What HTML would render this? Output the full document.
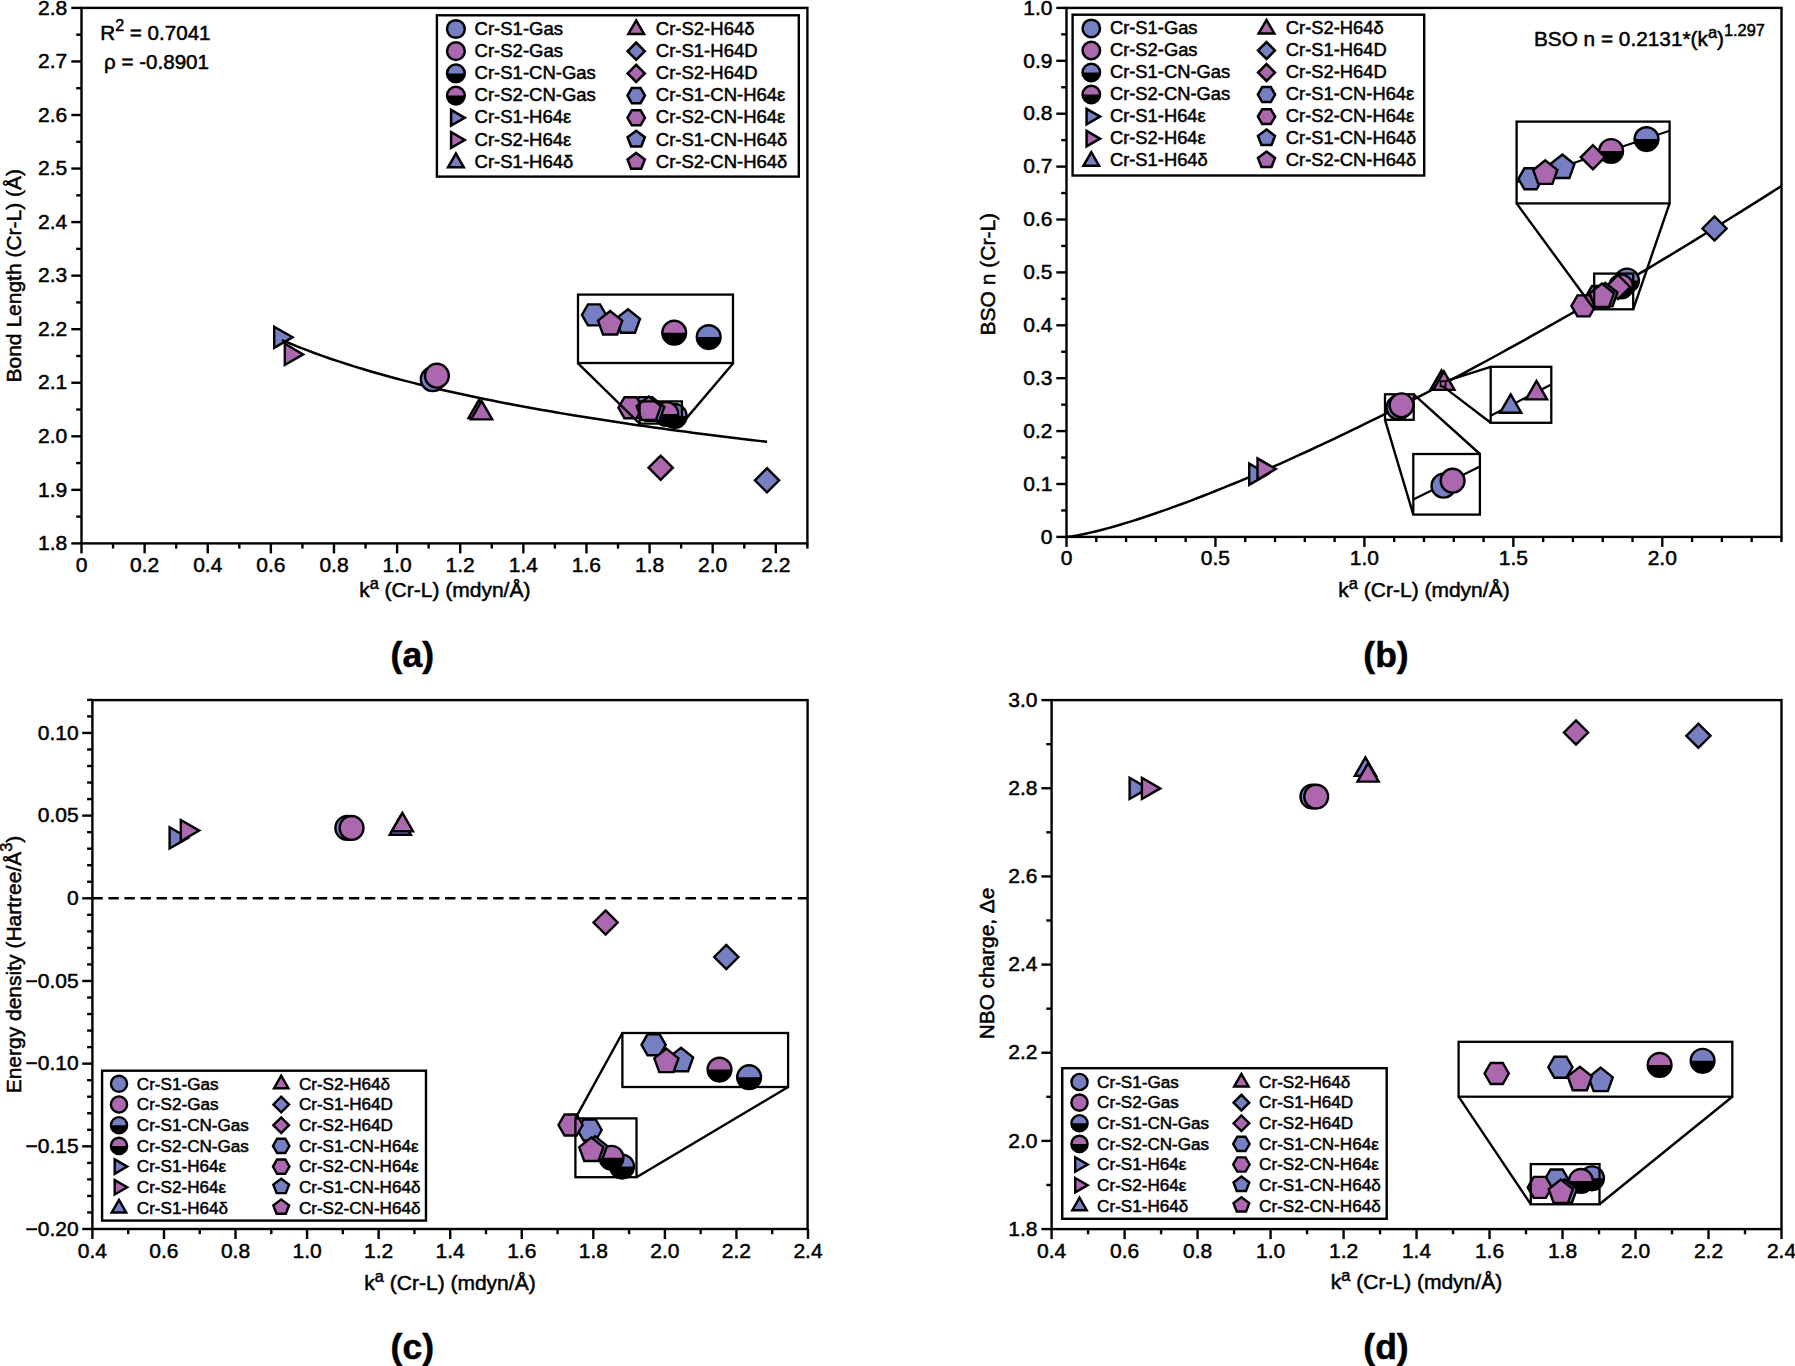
<!DOCTYPE html>
<html lang="en">
<head>
<meta charset="utf-8">
<title>Figure: Cr-L bond properties vs local force constant</title>
<style>html,body{margin:0;padding:0;background:#fff}body{width:1795px;height:1366px;overflow:hidden}</style>
</head>
<body>
<svg width="1795" height="1366" viewBox="0 0 1795 1366" style="display:block;font-family:'Liberation Sans',sans-serif" fill="#000">
<style>text{stroke:#000;stroke-width:0.5px;paint-order:stroke fill}</style>
<rect x="0" y="0" width="1795" height="1366" fill="#fff"/>
<g id="panel-a">
<polygon points="274.2,326.7 292.6,337.3 274.2,347.9" fill="#767fc1" stroke="#000" stroke-width="2.4" stroke-linejoin="miter"/>
<polygon points="284.8,343.8 303.2,354.4 284.8,365" fill="#ab68ae" stroke="#000" stroke-width="2.4" stroke-linejoin="miter"/>
<polyline fill="none" stroke="#000" stroke-width="2.5" points="281.99,340.09 290.08,343.51 298.16,346.79 306.25,349.94 314.33,352.97 322.42,355.88 330.51,358.7 338.59,361.42 346.68,364.05 354.76,366.59 362.85,369.06 370.93,371.45 379.02,373.77 387.1,376.02 395.19,378.21 403.27,380.34 411.36,382.41 419.44,384.43 427.53,386.4 435.61,388.31 443.7,390.19 451.78,392.01 459.87,393.8 467.95,395.54 476.04,397.25 484.13,398.92 492.21,400.55 500.3,402.15 508.38,403.72 516.47,405.25 524.55,406.76 532.64,408.23 540.72,409.68 548.81,411.1 556.89,412.49 564.98,413.86 573.06,415.2 581.15,416.52 589.23,417.82 597.32,419.1 605.4,420.35 613.49,421.58 621.58,422.8 629.66,423.99 637.75,425.17 645.83,426.33 653.92,427.47 662,428.59 670.09,429.69 678.17,430.78 686.26,431.86 694.34,432.92 702.43,433.96 710.51,434.99 718.6,436 726.68,437 734.77,437.99 742.85,438.97 750.94,439.93 759.02,440.88 767.11,441.82"/>
<rect x="81.5" y="7.9" width="725.9" height="535.5" fill="none" stroke="#000" stroke-width="2.4"/>
<line x1="81.5" y1="543.4" x2="81.5" y2="553.4" stroke="#000" stroke-width="2.4" />
<line x1="144.62" y1="543.4" x2="144.62" y2="553.4" stroke="#000" stroke-width="2.4" />
<line x1="207.74" y1="543.4" x2="207.74" y2="553.4" stroke="#000" stroke-width="2.4" />
<line x1="270.86" y1="543.4" x2="270.86" y2="553.4" stroke="#000" stroke-width="2.4" />
<line x1="333.98" y1="543.4" x2="333.98" y2="553.4" stroke="#000" stroke-width="2.4" />
<line x1="397.1" y1="543.4" x2="397.1" y2="553.4" stroke="#000" stroke-width="2.4" />
<line x1="460.22" y1="543.4" x2="460.22" y2="553.4" stroke="#000" stroke-width="2.4" />
<line x1="523.34" y1="543.4" x2="523.34" y2="553.4" stroke="#000" stroke-width="2.4" />
<line x1="586.46" y1="543.4" x2="586.46" y2="553.4" stroke="#000" stroke-width="2.4" />
<line x1="649.58" y1="543.4" x2="649.58" y2="553.4" stroke="#000" stroke-width="2.4" />
<line x1="712.7" y1="543.4" x2="712.7" y2="553.4" stroke="#000" stroke-width="2.4" />
<line x1="775.82" y1="543.4" x2="775.82" y2="553.4" stroke="#000" stroke-width="2.4" />
<line x1="113.06" y1="543.4" x2="113.06" y2="548.6" stroke="#000" stroke-width="2.4" />
<line x1="176.18" y1="543.4" x2="176.18" y2="548.6" stroke="#000" stroke-width="2.4" />
<line x1="239.3" y1="543.4" x2="239.3" y2="548.6" stroke="#000" stroke-width="2.4" />
<line x1="302.42" y1="543.4" x2="302.42" y2="548.6" stroke="#000" stroke-width="2.4" />
<line x1="365.54" y1="543.4" x2="365.54" y2="548.6" stroke="#000" stroke-width="2.4" />
<line x1="428.66" y1="543.4" x2="428.66" y2="548.6" stroke="#000" stroke-width="2.4" />
<line x1="491.78" y1="543.4" x2="491.78" y2="548.6" stroke="#000" stroke-width="2.4" />
<line x1="554.9" y1="543.4" x2="554.9" y2="548.6" stroke="#000" stroke-width="2.4" />
<line x1="618.02" y1="543.4" x2="618.02" y2="548.6" stroke="#000" stroke-width="2.4" />
<line x1="681.14" y1="543.4" x2="681.14" y2="548.6" stroke="#000" stroke-width="2.4" />
<line x1="744.26" y1="543.4" x2="744.26" y2="548.6" stroke="#000" stroke-width="2.4" />
<line x1="807.38" y1="543.4" x2="807.38" y2="548.6" stroke="#000" stroke-width="2.4" />
<line x1="71.3" y1="543.4" x2="81.5" y2="543.4" stroke="#000" stroke-width="2.4" />
<line x1="71.3" y1="489.85" x2="81.5" y2="489.85" stroke="#000" stroke-width="2.4" />
<line x1="71.3" y1="436.3" x2="81.5" y2="436.3" stroke="#000" stroke-width="2.4" />
<line x1="71.3" y1="382.75" x2="81.5" y2="382.75" stroke="#000" stroke-width="2.4" />
<line x1="71.3" y1="329.2" x2="81.5" y2="329.2" stroke="#000" stroke-width="2.4" />
<line x1="71.3" y1="275.65" x2="81.5" y2="275.65" stroke="#000" stroke-width="2.4" />
<line x1="71.3" y1="222.1" x2="81.5" y2="222.1" stroke="#000" stroke-width="2.4" />
<line x1="71.3" y1="168.55" x2="81.5" y2="168.55" stroke="#000" stroke-width="2.4" />
<line x1="71.3" y1="115" x2="81.5" y2="115" stroke="#000" stroke-width="2.4" />
<line x1="71.3" y1="61.45" x2="81.5" y2="61.45" stroke="#000" stroke-width="2.4" />
<line x1="71.3" y1="7.9" x2="81.5" y2="7.9" stroke="#000" stroke-width="2.4" />
<line x1="76.2" y1="516.62" x2="81.5" y2="516.62" stroke="#000" stroke-width="2.4" />
<line x1="76.2" y1="463.07" x2="81.5" y2="463.07" stroke="#000" stroke-width="2.4" />
<line x1="76.2" y1="409.52" x2="81.5" y2="409.52" stroke="#000" stroke-width="2.4" />
<line x1="76.2" y1="355.97" x2="81.5" y2="355.97" stroke="#000" stroke-width="2.4" />
<line x1="76.2" y1="302.42" x2="81.5" y2="302.42" stroke="#000" stroke-width="2.4" />
<line x1="76.2" y1="248.87" x2="81.5" y2="248.87" stroke="#000" stroke-width="2.4" />
<line x1="76.2" y1="195.32" x2="81.5" y2="195.32" stroke="#000" stroke-width="2.4" />
<line x1="76.2" y1="141.77" x2="81.5" y2="141.77" stroke="#000" stroke-width="2.4" />
<line x1="76.2" y1="88.22" x2="81.5" y2="88.22" stroke="#000" stroke-width="2.4" />
<line x1="76.2" y1="34.67" x2="81.5" y2="34.67" stroke="#000" stroke-width="2.4" />
<text x="81.5" y="571.5" text-anchor="middle" style="font-size:21px" >0</text>
<text x="144.62" y="571.5" text-anchor="middle" style="font-size:21px" >0.2</text>
<text x="207.74" y="571.5" text-anchor="middle" style="font-size:21px" >0.4</text>
<text x="270.86" y="571.5" text-anchor="middle" style="font-size:21px" >0.6</text>
<text x="333.98" y="571.5" text-anchor="middle" style="font-size:21px" >0.8</text>
<text x="397.1" y="571.5" text-anchor="middle" style="font-size:21px" >1.0</text>
<text x="460.22" y="571.5" text-anchor="middle" style="font-size:21px" >1.2</text>
<text x="523.34" y="571.5" text-anchor="middle" style="font-size:21px" >1.4</text>
<text x="586.46" y="571.5" text-anchor="middle" style="font-size:21px" >1.6</text>
<text x="649.58" y="571.5" text-anchor="middle" style="font-size:21px" >1.8</text>
<text x="712.7" y="571.5" text-anchor="middle" style="font-size:21px" >2.0</text>
<text x="775.82" y="571.5" text-anchor="middle" style="font-size:21px" >2.2</text>
<text x="67.3" y="550.1" text-anchor="end" style="font-size:21px" >1.8</text>
<text x="67.3" y="496.55" text-anchor="end" style="font-size:21px" >1.9</text>
<text x="67.3" y="443" text-anchor="end" style="font-size:21px" >2.0</text>
<text x="67.3" y="389.45" text-anchor="end" style="font-size:21px" >2.1</text>
<text x="67.3" y="335.9" text-anchor="end" style="font-size:21px" >2.2</text>
<text x="67.3" y="282.35" text-anchor="end" style="font-size:21px" >2.3</text>
<text x="67.3" y="228.8" text-anchor="end" style="font-size:21px" >2.4</text>
<text x="67.3" y="175.25" text-anchor="end" style="font-size:21px" >2.5</text>
<text x="67.3" y="121.7" text-anchor="end" style="font-size:21px" >2.6</text>
<text x="67.3" y="68.15" text-anchor="end" style="font-size:21px" >2.7</text>
<text x="67.3" y="14.6" text-anchor="end" style="font-size:21px" >2.8</text>
<text x="444.8" y="596.8" text-anchor="middle" style="font-size:21px" >k<tspan dy="-8" style="font-size:16.38px">a</tspan><tspan dy="8"> (Cr-L) (mdyn/Å)</tspan></text>
<text transform="translate(20.5 275.7) rotate(-90)" text-anchor="middle" style="font-size:21px">Bond Length (Cr-L) (Å)</text>
<text x="100.3" y="39.8" text-anchor="start" style="font-size:20.6px" >R<tspan dy="-8.5" style="font-size:16px">2</tspan><tspan dy="8.5"> = 0.7041</tspan></text>
<text x="104" y="69.2" text-anchor="start" style="font-size:20.6px" >ρ = -0.8901</text>
<circle cx="432.7" cy="379.2" r="11.9" fill="#767fc1" stroke="#000" stroke-width="2.4"/>
<circle cx="436.9" cy="375.7" r="11.9" fill="#ab68ae" stroke="#000" stroke-width="2.4"/>
<polygon points="468.5,418 479.1,399.6 489.7,418" fill="#767fc1" stroke="#000" stroke-width="2.4" stroke-linejoin="miter"/>
<polygon points="471,419.4 481.6,401 492.2,419.4" fill="#ab68ae" stroke="#000" stroke-width="2.4" stroke-linejoin="miter"/>
<polygon points="648.6,467.7 660.7,455.6 672.8,467.7 660.7,479.8" fill="#ab68ae" stroke="#000" stroke-width="2.4" stroke-linejoin="miter"/>
<polygon points="754.9,480.3 767,468.2 779.1,480.3 767,492.4" fill="#767fc1" stroke="#000" stroke-width="2.4" stroke-linejoin="miter"/>
<circle cx="674.7" cy="415.9" r="11.9" fill="#000" stroke="#000" stroke-width="2.4"/>
<path d="M664 415.9A10.7 10.7 0 0 1 685.4 415.9Z" fill="#767fc1"/>
<circle cx="666.4" cy="414" r="11.9" fill="#000" stroke="#000" stroke-width="2.4"/>
<path d="M655.7 414A10.7 10.7 0 0 1 677.1 414Z" fill="#ab68ae"/>
<polygon points="657.2,407.6 651.15,418.08 639.05,418.08 633,407.6 639.05,397.12 651.15,397.12" fill="#767fc1" stroke="#000" stroke-width="2.4" stroke-linejoin="miter"/>
<polygon points="642.6,407.7 636.55,418.18 624.45,418.18 618.4,407.7 624.45,397.22 636.55,397.22" fill="#ab68ae" stroke="#000" stroke-width="2.4" stroke-linejoin="miter"/>
<polygon points="652.2,397.25 664.3,406.9 659.3,420.75 645.1,420.75 640.1,406.9" fill="#767fc1" stroke="#000" stroke-width="2.4" stroke-linejoin="miter"/>
<polygon points="648.8,396.45 660.9,406.1 655.9,419.95 641.7,419.95 636.7,406.1" fill="#ab68ae" stroke="#000" stroke-width="2.4" stroke-linejoin="miter"/>
<rect x="639.6" y="401.4" width="42.3" height="22.2" fill="none" stroke="#000" stroke-width="2.3"/>
<line x1="577.8" y1="363.2" x2="639.6" y2="423.6" stroke="#000" stroke-width="2.4" />
<line x1="733.2" y1="363.2" x2="681.9" y2="423.6" stroke="#000" stroke-width="2.4" />
<rect x="578" y="294.6" width="155" height="68.4" fill="#fff" stroke="#000" stroke-width="2.3"/>
<polygon points="606.1,314.9 600.05,325.38 587.95,325.38 581.9,314.9 587.95,304.42 600.05,304.42" fill="#767fc1" stroke="#000" stroke-width="2.4" stroke-linejoin="miter"/>
<polygon points="627.9,309.25 640,318.9 635,332.75 620.8,332.75 615.8,318.9" fill="#767fc1" stroke="#000" stroke-width="2.4" stroke-linejoin="miter"/>
<polygon points="610.1,310.95 622.2,320.6 617.2,334.45 603,334.45 598,320.6" fill="#ab68ae" stroke="#000" stroke-width="2.4" stroke-linejoin="miter"/>
<circle cx="674.2" cy="332.7" r="11.9" fill="#000" stroke="#000" stroke-width="2.4"/>
<path d="M663.5 332.7A10.7 10.7 0 0 1 684.9 332.7Z" fill="#ab68ae"/>
<circle cx="708.7" cy="337.1" r="11.9" fill="#000" stroke="#000" stroke-width="2.4"/>
<path d="M698 337.1A10.7 10.7 0 0 1 719.4 337.1Z" fill="#767fc1"/>
<rect x="436.9" y="15.3" width="361.9" height="161.3" fill="#fff" stroke="#000" stroke-width="2.4"/>
<circle cx="455.9" cy="29" r="8.87" fill="#767fc1" stroke="#000" stroke-width="2.5"/>
<text x="474.6" y="34.57" text-anchor="start" style="font-size:18.5px" >Cr-S1-Gas</text>
<circle cx="455.9" cy="51.2" r="8.87" fill="#ab68ae" stroke="#000" stroke-width="2.5"/>
<text x="474.6" y="56.77" text-anchor="start" style="font-size:18.5px" >Cr-S2-Gas</text>
<circle cx="455.9" cy="73.4" r="8.87" fill="#000" stroke="#000" stroke-width="2.5"/>
<path d="M448.28 73.4A7.62 7.62 0 0 1 463.52 73.4Z" fill="#767fc1"/>
<text x="474.6" y="78.97" text-anchor="start" style="font-size:18.5px" >Cr-S1-CN-Gas</text>
<circle cx="455.9" cy="95.6" r="8.87" fill="#000" stroke="#000" stroke-width="2.5"/>
<path d="M448.28 95.6A7.62 7.62 0 0 1 463.52 95.6Z" fill="#ab68ae"/>
<text x="474.6" y="101.17" text-anchor="start" style="font-size:18.5px" >Cr-S2-CN-Gas</text>
<polygon points="451.09,109.9 464.8,117.8 451.09,125.7" fill="#767fc1" stroke="#000" stroke-width="2.5" stroke-linejoin="miter"/>
<text x="474.6" y="123.37" text-anchor="start" style="font-size:18.5px" >Cr-S1-H64ε</text>
<polygon points="451.09,132.1 464.8,140 451.09,147.9" fill="#ab68ae" stroke="#000" stroke-width="2.5" stroke-linejoin="miter"/>
<text x="474.6" y="145.57" text-anchor="start" style="font-size:18.5px" >Cr-S2-H64ε</text>
<polygon points="448,167.3 455.9,153.59 463.8,167.3" fill="#767fc1" stroke="#000" stroke-width="2.5" stroke-linejoin="miter"/>
<text x="474.6" y="167.77" text-anchor="start" style="font-size:18.5px" >Cr-S1-H64δ</text>
<polygon points="628.3,34.1 636.2,20.39 644.1,34.1" fill="#ab68ae" stroke="#000" stroke-width="2.5" stroke-linejoin="miter"/>
<text x="655.8" y="34.57" text-anchor="start" style="font-size:18.5px" >Cr-S2-H64δ</text>
<polygon points="627.64,51.2 636.2,42.64 644.76,51.2 636.2,59.76" fill="#767fc1" stroke="#000" stroke-width="2.5" stroke-linejoin="miter"/>
<text x="655.8" y="56.77" text-anchor="start" style="font-size:18.5px" >Cr-S1-H64D</text>
<polygon points="627.64,73.4 636.2,64.84 644.76,73.4 636.2,81.96" fill="#ab68ae" stroke="#000" stroke-width="2.5" stroke-linejoin="miter"/>
<text x="655.8" y="78.97" text-anchor="start" style="font-size:18.5px" >Cr-S2-H64D</text>
<polygon points="644.94,95.6 640.57,103.17 631.83,103.17 627.46,95.6 631.83,88.03 640.57,88.03" fill="#767fc1" stroke="#000" stroke-width="2.5" stroke-linejoin="miter"/>
<text x="655.8" y="101.17" text-anchor="start" style="font-size:18.5px" >Cr-S1-CN-H64ε</text>
<polygon points="644.94,117.8 640.57,125.37 631.83,125.37 627.46,117.8 631.83,110.23 640.57,110.23" fill="#ab68ae" stroke="#000" stroke-width="2.5" stroke-linejoin="miter"/>
<text x="655.8" y="123.37" text-anchor="start" style="font-size:18.5px" >Cr-S2-CN-H64ε</text>
<polygon points="636.2,130.72 644.85,137.19 641.28,146.48 631.12,146.48 627.55,137.19" fill="#767fc1" stroke="#000" stroke-width="2.5" stroke-linejoin="miter"/>
<text x="655.8" y="145.57" text-anchor="start" style="font-size:18.5px" >Cr-S1-CN-H64δ</text>
<polygon points="636.2,152.92 644.85,159.39 641.28,168.68 631.12,168.68 627.55,159.39" fill="#ab68ae" stroke="#000" stroke-width="2.5" stroke-linejoin="miter"/>
<text x="655.8" y="167.77" text-anchor="start" style="font-size:18.5px" >Cr-S2-CN-H64δ</text>
<text x="412.3" y="667" text-anchor="middle" style="font-size:35.5px;font-weight:bold" >(a)</text>
</g>
<g id="panel-b">
<polyline fill="none" stroke="#000" stroke-width="2.5" points="1066.5,536.9 1072.46,536.19 1078.42,535.17 1084.37,533.97 1090.33,532.64 1096.29,531.21 1102.25,529.69 1108.21,528.1 1114.16,526.43 1120.12,524.71 1126.08,522.92 1132.04,521.08 1138,519.19 1143.95,517.25 1149.91,515.27 1155.87,513.25 1161.83,511.18 1167.79,509.08 1173.74,506.94 1179.7,504.76 1185.66,502.55 1191.62,500.31 1197.58,498.03 1203.53,495.72 1209.49,493.39 1215.45,491.02 1221.41,488.63 1227.37,486.21 1233.32,483.76 1239.28,481.28 1245.24,478.78 1251.2,476.26 1257.16,473.71 1263.11,471.14 1269.07,468.54 1275.03,465.92 1280.99,463.28 1286.95,460.62 1292.9,457.93 1298.86,455.23 1304.82,452.5 1310.78,449.75 1316.74,446.99 1322.69,444.2 1328.65,441.39 1334.61,438.57 1340.57,435.73 1346.53,432.86 1352.48,429.98 1358.44,427.09 1364.4,424.17 1370.36,421.24 1376.32,418.29 1382.27,415.32 1388.23,412.34 1394.19,409.34 1400.15,406.32 1406.11,403.29 1412.06,400.24 1418.02,397.18 1423.98,394.1 1429.94,391 1435.9,387.89 1441.85,384.77 1447.81,381.63 1453.77,378.48 1459.73,375.31 1465.69,372.12 1471.64,368.93 1477.6,365.72 1483.56,362.49 1489.52,359.25 1495.48,356 1501.43,352.74 1507.39,349.46 1513.35,346.17 1519.31,342.86 1525.27,339.54 1531.22,336.21 1537.18,332.87 1543.14,329.51 1549.1,326.14 1555.06,322.76 1561.01,319.37 1566.97,315.96 1572.93,312.55 1578.89,309.12 1584.85,305.68 1590.8,302.22 1596.76,298.76 1602.72,295.28 1608.68,291.8 1614.64,288.3 1620.59,284.79 1626.55,281.26 1632.51,277.73 1638.47,274.19 1644.43,270.63 1650.38,267.07 1656.34,263.49 1662.3,259.9 1668.26,256.31 1674.22,252.7 1680.17,249.08 1686.13,245.45 1692.09,241.81 1698.05,238.16 1704.01,234.5 1709.96,230.83 1715.92,227.15 1721.88,223.46 1727.84,219.75 1733.8,216.04 1739.75,212.32 1745.71,208.59 1751.67,204.85 1757.63,201.1 1763.59,197.34 1769.54,193.57 1775.5,189.8 1781.46,186.01"/>
<rect x="1066.5" y="7.9" width="715" height="529" fill="none" stroke="#000" stroke-width="2.4"/>
<line x1="1066.5" y1="536.9" x2="1066.5" y2="546.9" stroke="#000" stroke-width="2.4" />
<line x1="1215.45" y1="536.9" x2="1215.45" y2="546.9" stroke="#000" stroke-width="2.4" />
<line x1="1364.4" y1="536.9" x2="1364.4" y2="546.9" stroke="#000" stroke-width="2.4" />
<line x1="1513.35" y1="536.9" x2="1513.35" y2="546.9" stroke="#000" stroke-width="2.4" />
<line x1="1662.3" y1="536.9" x2="1662.3" y2="546.9" stroke="#000" stroke-width="2.4" />
<line x1="1096.29" y1="536.9" x2="1096.29" y2="542.1" stroke="#000" stroke-width="2.4" />
<line x1="1126.08" y1="536.9" x2="1126.08" y2="542.1" stroke="#000" stroke-width="2.4" />
<line x1="1155.87" y1="536.9" x2="1155.87" y2="542.1" stroke="#000" stroke-width="2.4" />
<line x1="1185.66" y1="536.9" x2="1185.66" y2="542.1" stroke="#000" stroke-width="2.4" />
<line x1="1245.24" y1="536.9" x2="1245.24" y2="542.1" stroke="#000" stroke-width="2.4" />
<line x1="1275.03" y1="536.9" x2="1275.03" y2="542.1" stroke="#000" stroke-width="2.4" />
<line x1="1304.82" y1="536.9" x2="1304.82" y2="542.1" stroke="#000" stroke-width="2.4" />
<line x1="1334.61" y1="536.9" x2="1334.61" y2="542.1" stroke="#000" stroke-width="2.4" />
<line x1="1394.19" y1="536.9" x2="1394.19" y2="542.1" stroke="#000" stroke-width="2.4" />
<line x1="1423.98" y1="536.9" x2="1423.98" y2="542.1" stroke="#000" stroke-width="2.4" />
<line x1="1453.77" y1="536.9" x2="1453.77" y2="542.1" stroke="#000" stroke-width="2.4" />
<line x1="1483.56" y1="536.9" x2="1483.56" y2="542.1" stroke="#000" stroke-width="2.4" />
<line x1="1543.14" y1="536.9" x2="1543.14" y2="542.1" stroke="#000" stroke-width="2.4" />
<line x1="1572.93" y1="536.9" x2="1572.93" y2="542.1" stroke="#000" stroke-width="2.4" />
<line x1="1602.72" y1="536.9" x2="1602.72" y2="542.1" stroke="#000" stroke-width="2.4" />
<line x1="1632.51" y1="536.9" x2="1632.51" y2="542.1" stroke="#000" stroke-width="2.4" />
<line x1="1692.09" y1="536.9" x2="1692.09" y2="542.1" stroke="#000" stroke-width="2.4" />
<line x1="1721.88" y1="536.9" x2="1721.88" y2="542.1" stroke="#000" stroke-width="2.4" />
<line x1="1751.67" y1="536.9" x2="1751.67" y2="542.1" stroke="#000" stroke-width="2.4" />
<line x1="1781.46" y1="536.9" x2="1781.46" y2="542.1" stroke="#000" stroke-width="2.4" />
<line x1="1056.3" y1="536.9" x2="1066.5" y2="536.9" stroke="#000" stroke-width="2.4" />
<line x1="1056.3" y1="484" x2="1066.5" y2="484" stroke="#000" stroke-width="2.4" />
<line x1="1056.3" y1="431.1" x2="1066.5" y2="431.1" stroke="#000" stroke-width="2.4" />
<line x1="1056.3" y1="378.2" x2="1066.5" y2="378.2" stroke="#000" stroke-width="2.4" />
<line x1="1056.3" y1="325.3" x2="1066.5" y2="325.3" stroke="#000" stroke-width="2.4" />
<line x1="1056.3" y1="272.4" x2="1066.5" y2="272.4" stroke="#000" stroke-width="2.4" />
<line x1="1056.3" y1="219.5" x2="1066.5" y2="219.5" stroke="#000" stroke-width="2.4" />
<line x1="1056.3" y1="166.6" x2="1066.5" y2="166.6" stroke="#000" stroke-width="2.4" />
<line x1="1056.3" y1="113.7" x2="1066.5" y2="113.7" stroke="#000" stroke-width="2.4" />
<line x1="1056.3" y1="60.8" x2="1066.5" y2="60.8" stroke="#000" stroke-width="2.4" />
<line x1="1056.3" y1="7.9" x2="1066.5" y2="7.9" stroke="#000" stroke-width="2.4" />
<line x1="1061.2" y1="510.45" x2="1066.5" y2="510.45" stroke="#000" stroke-width="2.4" />
<line x1="1061.2" y1="457.55" x2="1066.5" y2="457.55" stroke="#000" stroke-width="2.4" />
<line x1="1061.2" y1="404.65" x2="1066.5" y2="404.65" stroke="#000" stroke-width="2.4" />
<line x1="1061.2" y1="351.75" x2="1066.5" y2="351.75" stroke="#000" stroke-width="2.4" />
<line x1="1061.2" y1="298.85" x2="1066.5" y2="298.85" stroke="#000" stroke-width="2.4" />
<line x1="1061.2" y1="245.95" x2="1066.5" y2="245.95" stroke="#000" stroke-width="2.4" />
<line x1="1061.2" y1="193.05" x2="1066.5" y2="193.05" stroke="#000" stroke-width="2.4" />
<line x1="1061.2" y1="140.15" x2="1066.5" y2="140.15" stroke="#000" stroke-width="2.4" />
<line x1="1061.2" y1="87.25" x2="1066.5" y2="87.25" stroke="#000" stroke-width="2.4" />
<line x1="1061.2" y1="34.35" x2="1066.5" y2="34.35" stroke="#000" stroke-width="2.4" />
<text x="1066.5" y="565.4" text-anchor="middle" style="font-size:21px" >0</text>
<text x="1215.45" y="565.4" text-anchor="middle" style="font-size:21px" >0.5</text>
<text x="1364.4" y="565.4" text-anchor="middle" style="font-size:21px" >1.0</text>
<text x="1513.35" y="565.4" text-anchor="middle" style="font-size:21px" >1.5</text>
<text x="1662.3" y="565.4" text-anchor="middle" style="font-size:21px" >2.0</text>
<text x="1052.5" y="543.6" text-anchor="end" style="font-size:21px" >0</text>
<text x="1052.5" y="490.7" text-anchor="end" style="font-size:21px" >0.1</text>
<text x="1052.5" y="437.8" text-anchor="end" style="font-size:21px" >0.2</text>
<text x="1052.5" y="384.9" text-anchor="end" style="font-size:21px" >0.3</text>
<text x="1052.5" y="332" text-anchor="end" style="font-size:21px" >0.4</text>
<text x="1052.5" y="279.1" text-anchor="end" style="font-size:21px" >0.5</text>
<text x="1052.5" y="226.2" text-anchor="end" style="font-size:21px" >0.6</text>
<text x="1052.5" y="173.3" text-anchor="end" style="font-size:21px" >0.7</text>
<text x="1052.5" y="120.4" text-anchor="end" style="font-size:21px" >0.8</text>
<text x="1052.5" y="67.5" text-anchor="end" style="font-size:21px" >0.9</text>
<text x="1052.5" y="14.6" text-anchor="end" style="font-size:21px" >1.0</text>
<text x="1424" y="596.6" text-anchor="middle" style="font-size:21px" >k<tspan dy="-8" style="font-size:16.38px">a</tspan><tspan dy="8"> (Cr-L) (mdyn/Å)</tspan></text>
<text transform="translate(994.8 274.2) rotate(-90)" text-anchor="middle" style="font-size:21px">BSO n (Cr-L)</text>
<text x="1533.9" y="45.6" text-anchor="start" style="font-size:20.8px" >BSO n = 0.2131*(k<tspan dy="-8" style="font-size:16.4px">a</tspan><tspan dy="8">)</tspan><tspan dy="-10" style="font-size:16.4px">1.297</tspan></text>
<polygon points="1249.2,463.6 1267.6,474.2 1249.2,484.8" fill="#767fc1" stroke="#000" stroke-width="2.4" stroke-linejoin="miter"/>
<polygon points="1257.5,458.4 1275.9,469 1257.5,479.6" fill="#ab68ae" stroke="#000" stroke-width="2.4" stroke-linejoin="miter"/>
<polygon points="1702.4,228.5 1714.5,216.4 1726.6,228.5 1714.5,240.6" fill="#767fc1" stroke="#000" stroke-width="2.4" stroke-linejoin="miter"/>
<circle cx="1398.5" cy="407.4" r="11.9" fill="#767fc1" stroke="#000" stroke-width="2.4"/>
<rect x="1385" y="394.3" width="28.7" height="25.5" fill="none" stroke="#000" stroke-width="2.3"/>
<circle cx="1401.5" cy="405.3" r="11.9" fill="#ab68ae" stroke="#000" stroke-width="2.4"/>
<polygon points="1430.9,388.8 1441.5,370.4 1452.1,388.8" fill="#767fc1" stroke="#000" stroke-width="2.4" stroke-linejoin="miter"/>
<polygon points="1433.3,389.9 1443.9,371.5 1454.5,389.9" fill="#ab68ae" stroke="#000" stroke-width="2.4" stroke-linejoin="miter"/>
<rect x="1440.6" y="381.2" width="5" height="5.2" fill="none" stroke="#000" stroke-width="1.8"/>
<line x1="1385" y1="419.8" x2="1413.3" y2="514.6" stroke="#000" stroke-width="2.4" />
<line x1="1413.7" y1="394.3" x2="1479.9" y2="454" stroke="#000" stroke-width="2.4" />
<line x1="1445.6" y1="381.2" x2="1490.7" y2="366.8" stroke="#000" stroke-width="2.4" />
<line x1="1443" y1="386.4" x2="1490.7" y2="422.8" stroke="#000" stroke-width="2.4" />
<rect x="1413.3" y="454" width="66.6" height="60.6" fill="#fff" stroke="#000" stroke-width="2.3"/>
<line x1="1413.3" y1="499.4" x2="1479.9" y2="466.6" stroke="#000" stroke-width="2.2" />
<circle cx="1443.5" cy="485.7" r="11.9" fill="#767fc1" stroke="#000" stroke-width="2.4"/>
<circle cx="1452.6" cy="480.7" r="11.9" fill="#ab68ae" stroke="#000" stroke-width="2.4"/>
<rect x="1490.7" y="366.8" width="60.6" height="56" fill="#fff" stroke="#000" stroke-width="2.3"/>
<line x1="1490.7" y1="415.8" x2="1551.3" y2="384.5" stroke="#000" stroke-width="2.2" />
<polygon points="1500.1,412.7 1510.7,394.3 1521.3,412.7" fill="#767fc1" stroke="#000" stroke-width="2.4" stroke-linejoin="miter"/>
<polygon points="1525.9,399.4 1536.5,381 1547.1,399.4" fill="#ab68ae" stroke="#000" stroke-width="2.4" stroke-linejoin="miter"/>
<circle cx="1627" cy="280.5" r="11.9" fill="#000" stroke="#000" stroke-width="2.4"/>
<path d="M1616.3 280.5A10.7 10.7 0 0 1 1637.7 280.5Z" fill="#767fc1"/>
<circle cx="1621" cy="286.5" r="11.9" fill="#000" stroke="#000" stroke-width="2.4"/>
<path d="M1610.3 286.5A10.7 10.7 0 0 1 1631.7 286.5Z" fill="#ab68ae"/>
<polygon points="1605.9,287 1618,274.9 1630.1,287 1618,299.1" fill="#ab68ae" stroke="#000" stroke-width="2.4" stroke-linejoin="miter"/>
<polygon points="1610.1,296.5 1604.05,306.98 1591.95,306.98 1585.9,296.5 1591.95,286.02 1604.05,286.02" fill="#767fc1" stroke="#000" stroke-width="2.4" stroke-linejoin="miter"/>
<polygon points="1595.6,305.9 1589.55,316.38 1577.45,316.38 1571.4,305.9 1577.45,295.42 1589.55,295.42" fill="#ab68ae" stroke="#000" stroke-width="2.4" stroke-linejoin="miter"/>
<polygon points="1605.4,282.85 1617.5,292.5 1612.5,306.35 1598.3,306.35 1593.3,292.5" fill="#767fc1" stroke="#000" stroke-width="2.4" stroke-linejoin="miter"/>
<polygon points="1601.9,283.55 1614,293.2 1609,307.05 1594.8,307.05 1589.8,293.2" fill="#ab68ae" stroke="#000" stroke-width="2.4" stroke-linejoin="miter"/>
<rect x="1594.2" y="273.6" width="39" height="35.7" fill="none" stroke="#000" stroke-width="2.3"/>
<line x1="1516.6" y1="203.4" x2="1594.2" y2="309.3" stroke="#000" stroke-width="2.4" />
<line x1="1669.6" y1="203.4" x2="1633.2" y2="309.3" stroke="#000" stroke-width="2.4" />
<rect x="1516.6" y="121.6" width="153" height="81.8" fill="#fff" stroke="#000" stroke-width="2.3"/>
<line x1="1516.6" y1="182.2" x2="1669.6" y2="130.8" stroke="#000" stroke-width="2.2" />
<polygon points="1542.6,178.8 1536.55,189.28 1524.45,189.28 1518.4,178.8 1524.45,168.32 1536.55,168.32" fill="#767fc1" stroke="#000" stroke-width="2.4" stroke-linejoin="miter"/>
<polygon points="1562.3,154.55 1574.4,164.2 1569.4,178.05 1555.2,178.05 1550.2,164.2" fill="#767fc1" stroke="#000" stroke-width="2.4" stroke-linejoin="miter"/>
<polygon points="1545.3,160.35 1557.4,170 1552.4,183.85 1538.2,183.85 1533.2,170" fill="#ab68ae" stroke="#000" stroke-width="2.4" stroke-linejoin="miter"/>
<circle cx="1611.1" cy="151" r="11.9" fill="#000" stroke="#000" stroke-width="2.4"/>
<path d="M1600.4 151A10.7 10.7 0 0 1 1621.8 151Z" fill="#ab68ae"/>
<polygon points="1580.8,157.2 1592.9,145.1 1605,157.2 1592.9,169.3" fill="#ab68ae" stroke="#000" stroke-width="2.4" stroke-linejoin="miter"/>
<circle cx="1646.5" cy="139.1" r="11.9" fill="#000" stroke="#000" stroke-width="2.4"/>
<path d="M1635.8 139.1A10.7 10.7 0 0 1 1657.2 139.1Z" fill="#767fc1"/>
<rect x="1072.6" y="14.7" width="351.6" height="160.8" fill="#fff" stroke="#000" stroke-width="2.4"/>
<circle cx="1091.3" cy="28.4" r="8.75" fill="#767fc1" stroke="#000" stroke-width="2.5"/>
<text x="1109.9" y="33.91" text-anchor="start" style="font-size:18.35px" >Cr-S1-Gas</text>
<circle cx="1091.3" cy="50.45" r="8.75" fill="#ab68ae" stroke="#000" stroke-width="2.5"/>
<text x="1109.9" y="55.96" text-anchor="start" style="font-size:18.35px" >Cr-S2-Gas</text>
<circle cx="1091.3" cy="72.5" r="8.75" fill="#000" stroke="#000" stroke-width="2.5"/>
<path d="M1083.8 72.5A7.5 7.5 0 0 1 1098.8 72.5Z" fill="#767fc1"/>
<text x="1109.9" y="78.01" text-anchor="start" style="font-size:18.35px" >Cr-S1-CN-Gas</text>
<circle cx="1091.3" cy="94.55" r="8.75" fill="#000" stroke="#000" stroke-width="2.5"/>
<path d="M1083.8 94.55A7.5 7.5 0 0 1 1098.8 94.55Z" fill="#ab68ae"/>
<text x="1109.9" y="100.06" text-anchor="start" style="font-size:18.35px" >Cr-S2-CN-Gas</text>
<polygon points="1086.57,108.81 1100.09,116.6 1086.57,124.39" fill="#767fc1" stroke="#000" stroke-width="2.5" stroke-linejoin="miter"/>
<text x="1109.9" y="122.11" text-anchor="start" style="font-size:18.35px" >Cr-S1-H64ε</text>
<polygon points="1086.57,130.86 1100.09,138.65 1086.57,146.44" fill="#ab68ae" stroke="#000" stroke-width="2.5" stroke-linejoin="miter"/>
<text x="1109.9" y="144.16" text-anchor="start" style="font-size:18.35px" >Cr-S2-H64ε</text>
<polygon points="1083.51,165.7 1091.3,152.18 1099.09,165.7" fill="#767fc1" stroke="#000" stroke-width="2.5" stroke-linejoin="miter"/>
<text x="1109.9" y="166.21" text-anchor="start" style="font-size:18.35px" >Cr-S1-H64δ</text>
<polygon points="1258.71,33.4 1266.5,19.88 1274.29,33.4" fill="#ab68ae" stroke="#000" stroke-width="2.5" stroke-linejoin="miter"/>
<text x="1285.8" y="33.91" text-anchor="start" style="font-size:18.35px" >Cr-S2-H64δ</text>
<polygon points="1258.05,50.45 1266.5,42 1274.95,50.45 1266.5,58.9" fill="#767fc1" stroke="#000" stroke-width="2.5" stroke-linejoin="miter"/>
<text x="1285.8" y="55.96" text-anchor="start" style="font-size:18.35px" >Cr-S1-H64D</text>
<polygon points="1258.05,72.5 1266.5,64.05 1274.95,72.5 1266.5,80.95" fill="#ab68ae" stroke="#000" stroke-width="2.5" stroke-linejoin="miter"/>
<text x="1285.8" y="78.01" text-anchor="start" style="font-size:18.35px" >Cr-S2-H64D</text>
<polygon points="1275.13,94.55 1270.81,102.02 1262.19,102.02 1257.87,94.55 1262.19,87.08 1270.81,87.08" fill="#767fc1" stroke="#000" stroke-width="2.5" stroke-linejoin="miter"/>
<text x="1285.8" y="100.06" text-anchor="start" style="font-size:18.35px" >Cr-S1-CN-H64ε</text>
<polygon points="1275.13,116.6 1270.81,124.07 1262.19,124.07 1257.87,116.6 1262.19,109.13 1270.81,109.13" fill="#ab68ae" stroke="#000" stroke-width="2.5" stroke-linejoin="miter"/>
<text x="1285.8" y="122.11" text-anchor="start" style="font-size:18.35px" >Cr-S2-CN-H64ε</text>
<polygon points="1266.5,129.48 1275.04,135.86 1271.51,145.02 1261.49,145.02 1257.96,135.86" fill="#767fc1" stroke="#000" stroke-width="2.5" stroke-linejoin="miter"/>
<text x="1285.8" y="144.16" text-anchor="start" style="font-size:18.35px" >Cr-S1-CN-H64δ</text>
<polygon points="1266.5,151.53 1275.04,157.91 1271.51,167.07 1261.49,167.07 1257.96,157.91" fill="#ab68ae" stroke="#000" stroke-width="2.5" stroke-linejoin="miter"/>
<text x="1285.8" y="166.21" text-anchor="start" style="font-size:18.35px" >Cr-S2-CN-H64δ</text>
<text x="1386" y="667" text-anchor="middle" style="font-size:35.5px;font-weight:bold" >(b)</text>
</g>
<g id="panel-c">
<rect x="92.4" y="700.1" width="715.2" height="528.9" fill="none" stroke="#000" stroke-width="2.4"/>
<line x1="92.4" y1="1229" x2="92.4" y2="1239" stroke="#000" stroke-width="2.4" />
<line x1="163.96" y1="1229" x2="163.96" y2="1239" stroke="#000" stroke-width="2.4" />
<line x1="235.52" y1="1229" x2="235.52" y2="1239" stroke="#000" stroke-width="2.4" />
<line x1="307.08" y1="1229" x2="307.08" y2="1239" stroke="#000" stroke-width="2.4" />
<line x1="378.64" y1="1229" x2="378.64" y2="1239" stroke="#000" stroke-width="2.4" />
<line x1="450.2" y1="1229" x2="450.2" y2="1239" stroke="#000" stroke-width="2.4" />
<line x1="521.76" y1="1229" x2="521.76" y2="1239" stroke="#000" stroke-width="2.4" />
<line x1="593.32" y1="1229" x2="593.32" y2="1239" stroke="#000" stroke-width="2.4" />
<line x1="664.88" y1="1229" x2="664.88" y2="1239" stroke="#000" stroke-width="2.4" />
<line x1="736.44" y1="1229" x2="736.44" y2="1239" stroke="#000" stroke-width="2.4" />
<line x1="808" y1="1229" x2="808" y2="1239" stroke="#000" stroke-width="2.4" />
<line x1="128.18" y1="1229" x2="128.18" y2="1234.2" stroke="#000" stroke-width="2.4" />
<line x1="199.74" y1="1229" x2="199.74" y2="1234.2" stroke="#000" stroke-width="2.4" />
<line x1="271.3" y1="1229" x2="271.3" y2="1234.2" stroke="#000" stroke-width="2.4" />
<line x1="342.86" y1="1229" x2="342.86" y2="1234.2" stroke="#000" stroke-width="2.4" />
<line x1="414.42" y1="1229" x2="414.42" y2="1234.2" stroke="#000" stroke-width="2.4" />
<line x1="485.98" y1="1229" x2="485.98" y2="1234.2" stroke="#000" stroke-width="2.4" />
<line x1="557.54" y1="1229" x2="557.54" y2="1234.2" stroke="#000" stroke-width="2.4" />
<line x1="629.1" y1="1229" x2="629.1" y2="1234.2" stroke="#000" stroke-width="2.4" />
<line x1="700.66" y1="1229" x2="700.66" y2="1234.2" stroke="#000" stroke-width="2.4" />
<line x1="772.22" y1="1229" x2="772.22" y2="1234.2" stroke="#000" stroke-width="2.4" />
<line x1="82.2" y1="1229" x2="92.4" y2="1229" stroke="#000" stroke-width="2.4" />
<line x1="82.2" y1="1146.33" x2="92.4" y2="1146.33" stroke="#000" stroke-width="2.4" />
<line x1="82.2" y1="1063.65" x2="92.4" y2="1063.65" stroke="#000" stroke-width="2.4" />
<line x1="82.2" y1="980.97" x2="92.4" y2="980.97" stroke="#000" stroke-width="2.4" />
<line x1="82.2" y1="898.3" x2="92.4" y2="898.3" stroke="#000" stroke-width="2.4" />
<line x1="82.2" y1="815.62" x2="92.4" y2="815.62" stroke="#000" stroke-width="2.4" />
<line x1="82.2" y1="732.95" x2="92.4" y2="732.95" stroke="#000" stroke-width="2.4" />
<line x1="87.1" y1="1212.46" x2="92.4" y2="1212.46" stroke="#000" stroke-width="2.4" />
<line x1="87.1" y1="1195.93" x2="92.4" y2="1195.93" stroke="#000" stroke-width="2.4" />
<line x1="87.1" y1="1179.39" x2="92.4" y2="1179.39" stroke="#000" stroke-width="2.4" />
<line x1="87.1" y1="1162.86" x2="92.4" y2="1162.86" stroke="#000" stroke-width="2.4" />
<line x1="87.1" y1="1129.79" x2="92.4" y2="1129.79" stroke="#000" stroke-width="2.4" />
<line x1="87.1" y1="1113.25" x2="92.4" y2="1113.25" stroke="#000" stroke-width="2.4" />
<line x1="87.1" y1="1096.72" x2="92.4" y2="1096.72" stroke="#000" stroke-width="2.4" />
<line x1="87.1" y1="1080.18" x2="92.4" y2="1080.18" stroke="#000" stroke-width="2.4" />
<line x1="87.1" y1="1047.12" x2="92.4" y2="1047.12" stroke="#000" stroke-width="2.4" />
<line x1="87.1" y1="1030.58" x2="92.4" y2="1030.58" stroke="#000" stroke-width="2.4" />
<line x1="87.1" y1="1014.04" x2="92.4" y2="1014.04" stroke="#000" stroke-width="2.4" />
<line x1="87.1" y1="997.51" x2="92.4" y2="997.51" stroke="#000" stroke-width="2.4" />
<line x1="87.1" y1="964.44" x2="92.4" y2="964.44" stroke="#000" stroke-width="2.4" />
<line x1="87.1" y1="947.9" x2="92.4" y2="947.9" stroke="#000" stroke-width="2.4" />
<line x1="87.1" y1="931.37" x2="92.4" y2="931.37" stroke="#000" stroke-width="2.4" />
<line x1="87.1" y1="914.83" x2="92.4" y2="914.83" stroke="#000" stroke-width="2.4" />
<line x1="87.1" y1="881.76" x2="92.4" y2="881.76" stroke="#000" stroke-width="2.4" />
<line x1="87.1" y1="865.23" x2="92.4" y2="865.23" stroke="#000" stroke-width="2.4" />
<line x1="87.1" y1="848.69" x2="92.4" y2="848.69" stroke="#000" stroke-width="2.4" />
<line x1="87.1" y1="832.16" x2="92.4" y2="832.16" stroke="#000" stroke-width="2.4" />
<line x1="87.1" y1="799.09" x2="92.4" y2="799.09" stroke="#000" stroke-width="2.4" />
<line x1="87.1" y1="782.55" x2="92.4" y2="782.55" stroke="#000" stroke-width="2.4" />
<line x1="87.1" y1="766.02" x2="92.4" y2="766.02" stroke="#000" stroke-width="2.4" />
<line x1="87.1" y1="749.49" x2="92.4" y2="749.49" stroke="#000" stroke-width="2.4" />
<line x1="87.1" y1="716.41" x2="92.4" y2="716.41" stroke="#000" stroke-width="2.4" />
<line x1="87.1" y1="699.88" x2="92.4" y2="699.88" stroke="#000" stroke-width="2.4" />
<text x="92.4" y="1257.7" text-anchor="middle" style="font-size:21px" >0.4</text>
<text x="163.96" y="1257.7" text-anchor="middle" style="font-size:21px" >0.6</text>
<text x="235.52" y="1257.7" text-anchor="middle" style="font-size:21px" >0.8</text>
<text x="307.08" y="1257.7" text-anchor="middle" style="font-size:21px" >1.0</text>
<text x="378.64" y="1257.7" text-anchor="middle" style="font-size:21px" >1.2</text>
<text x="450.2" y="1257.7" text-anchor="middle" style="font-size:21px" >1.4</text>
<text x="521.76" y="1257.7" text-anchor="middle" style="font-size:21px" >1.6</text>
<text x="593.32" y="1257.7" text-anchor="middle" style="font-size:21px" >1.8</text>
<text x="664.88" y="1257.7" text-anchor="middle" style="font-size:21px" >2.0</text>
<text x="736.44" y="1257.7" text-anchor="middle" style="font-size:21px" >2.2</text>
<text x="808" y="1257.7" text-anchor="middle" style="font-size:21px" >2.4</text>
<text x="78.6" y="1235.7" text-anchor="end" style="font-size:21px" >−0.20</text>
<text x="78.6" y="1153.03" text-anchor="end" style="font-size:21px" >−0.15</text>
<text x="78.6" y="1070.35" text-anchor="end" style="font-size:21px" >−0.10</text>
<text x="78.6" y="987.67" text-anchor="end" style="font-size:21px" >−0.05</text>
<text x="78.6" y="905" text-anchor="end" style="font-size:21px" >0</text>
<text x="78.6" y="822.33" text-anchor="end" style="font-size:21px" >0.05</text>
<text x="78.6" y="739.65" text-anchor="end" style="font-size:21px" >0.10</text>
<line x1="92.4" y1="898.3" x2="807.6" y2="898.3" stroke="#000" stroke-width="2.6" stroke-dasharray="10.4 5.63"/>
<text x="450" y="1289.7" text-anchor="middle" style="font-size:21px" >k<tspan dy="-8" style="font-size:16.38px">a</tspan><tspan dy="8"> (Cr-L) (mdyn/Å)</tspan></text>
<text transform="translate(20.5 964.5) rotate(-90)" text-anchor="middle" style="font-size:21px">Energy density (Hartree/Å<tspan dy="-8.5" style="font-size:16.4px">3</tspan><tspan dy="8.5">)</tspan></text>
<polygon points="169.6,827.3 188,837.9 169.6,848.5" fill="#767fc1" stroke="#000" stroke-width="2.4" stroke-linejoin="miter"/>
<polygon points="180.8,820 199.2,830.6 180.8,841.2" fill="#ab68ae" stroke="#000" stroke-width="2.4" stroke-linejoin="miter"/>
<circle cx="347.3" cy="827.9" r="11.9" fill="#767fc1" stroke="#000" stroke-width="2.4"/>
<circle cx="351.6" cy="827.9" r="11.9" fill="#ab68ae" stroke="#000" stroke-width="2.4"/>
<polygon points="389.7,834.8 400.3,816.4 410.9,834.8" fill="#767fc1" stroke="#000" stroke-width="2.4" stroke-linejoin="miter"/>
<polygon points="391.8,831.2 402.4,812.8 413,831.2" fill="#ab68ae" stroke="#000" stroke-width="2.4" stroke-linejoin="miter"/>
<polygon points="593.5,922.5 605.6,910.4 617.7,922.5 605.6,934.6" fill="#ab68ae" stroke="#000" stroke-width="2.4" stroke-linejoin="miter"/>
<polygon points="714.2,957 726.3,944.9 738.4,957 726.3,969.1" fill="#767fc1" stroke="#000" stroke-width="2.4" stroke-linejoin="miter"/>
<circle cx="622.1" cy="1166.6" r="11.9" fill="#000" stroke="#000" stroke-width="2.4"/>
<path d="M611.4 1166.6A10.7 10.7 0 0 1 632.8 1166.6Z" fill="#767fc1"/>
<circle cx="611.5" cy="1157.8" r="11.9" fill="#000" stroke="#000" stroke-width="2.4"/>
<path d="M600.8 1157.8A10.7 10.7 0 0 1 622.2 1157.8Z" fill="#ab68ae"/>
<polygon points="601.7,1130 595.65,1140.48 583.55,1140.48 577.5,1130 583.55,1119.52 595.65,1119.52" fill="#767fc1" stroke="#000" stroke-width="2.4" stroke-linejoin="miter"/>
<polygon points="582.7,1125 576.65,1135.48 564.55,1135.48 558.5,1125 564.55,1114.52 576.65,1114.52" fill="#ab68ae" stroke="#000" stroke-width="2.4" stroke-linejoin="miter"/>
<polygon points="595,1136.25 607.1,1145.9 602.1,1159.75 587.9,1159.75 582.9,1145.9" fill="#767fc1" stroke="#000" stroke-width="2.4" stroke-linejoin="miter"/>
<polygon points="591.3,1137.45 603.4,1147.1 598.4,1160.95 584.2,1160.95 579.2,1147.1" fill="#ab68ae" stroke="#000" stroke-width="2.4" stroke-linejoin="miter"/>
<rect x="575.4" y="1118.4" width="61.1" height="58.8" fill="none" stroke="#000" stroke-width="2.3"/>
<line x1="575.4" y1="1118.4" x2="622.4" y2="1033" stroke="#000" stroke-width="2.4" />
<line x1="636.5" y1="1177.2" x2="788.1" y2="1087" stroke="#000" stroke-width="2.4" />
<polygon points="665.7,1044.8 659.65,1055.28 647.55,1055.28 641.5,1044.8 647.55,1034.32 659.65,1034.32" fill="#767fc1" stroke="#000" stroke-width="2.4" stroke-linejoin="miter"/>
<rect x="622.4" y="1033" width="165.7" height="54" fill="none" stroke="#000" stroke-width="2.3"/>
<polygon points="681,1047.75 693.1,1057.4 688.1,1071.25 673.9,1071.25 668.9,1057.4" fill="#767fc1" stroke="#000" stroke-width="2.4" stroke-linejoin="miter"/>
<polygon points="666.4,1048.65 678.5,1058.3 673.5,1072.15 659.3,1072.15 654.3,1058.3" fill="#ab68ae" stroke="#000" stroke-width="2.4" stroke-linejoin="miter"/>
<circle cx="719.5" cy="1069.6" r="11.9" fill="#000" stroke="#000" stroke-width="2.4"/>
<path d="M708.8 1069.6A10.7 10.7 0 0 1 730.2 1069.6Z" fill="#ab68ae"/>
<circle cx="749.1" cy="1077.2" r="11.9" fill="#000" stroke="#000" stroke-width="2.4"/>
<path d="M738.4 1077.2A10.7 10.7 0 0 1 759.8 1077.2Z" fill="#767fc1"/>
<rect x="102.1" y="1070.7" width="323.9" height="149.9" fill="#fff" stroke="#000" stroke-width="2.4"/>
<circle cx="119" cy="1083.8" r="8.09" fill="#767fc1" stroke="#000" stroke-width="2.4"/>
<text x="136.8" y="1089.57" text-anchor="start" style="font-size:17.1px" >Cr-S1-Gas</text>
<circle cx="119" cy="1104.5" r="8.09" fill="#ab68ae" stroke="#000" stroke-width="2.4"/>
<text x="136.8" y="1110.27" text-anchor="start" style="font-size:17.1px" >Cr-S2-Gas</text>
<circle cx="119" cy="1125.2" r="8.09" fill="#000" stroke="#000" stroke-width="2.4"/>
<path d="M112.11 1125.2A6.89 6.89 0 0 1 125.89 1125.2Z" fill="#767fc1"/>
<text x="136.8" y="1130.97" text-anchor="start" style="font-size:17.1px" >Cr-S1-CN-Gas</text>
<circle cx="119" cy="1145.9" r="8.09" fill="#000" stroke="#000" stroke-width="2.4"/>
<path d="M112.11 1145.9A6.89 6.89 0 0 1 125.89 1145.9Z" fill="#ab68ae"/>
<text x="136.8" y="1151.67" text-anchor="start" style="font-size:17.1px" >Cr-S2-CN-Gas</text>
<polygon points="114.7,1159.39 127.21,1166.6 114.7,1173.81" fill="#767fc1" stroke="#000" stroke-width="2.4" stroke-linejoin="miter"/>
<text x="136.8" y="1172.37" text-anchor="start" style="font-size:17.1px" >Cr-S1-H64ε</text>
<polygon points="114.7,1180.09 127.21,1187.3 114.7,1194.51" fill="#ab68ae" stroke="#000" stroke-width="2.4" stroke-linejoin="miter"/>
<text x="136.8" y="1193.07" text-anchor="start" style="font-size:17.1px" >Cr-S2-H64ε</text>
<polygon points="111.79,1212.46 119,1199.95 126.21,1212.46" fill="#767fc1" stroke="#000" stroke-width="2.4" stroke-linejoin="miter"/>
<text x="136.8" y="1213.77" text-anchor="start" style="font-size:17.1px" >Cr-S1-H64δ</text>
<polygon points="273.99,1088.26 281.2,1075.75 288.41,1088.26" fill="#ab68ae" stroke="#000" stroke-width="2.4" stroke-linejoin="miter"/>
<text x="298.9" y="1089.57" text-anchor="start" style="font-size:17.1px" >Cr-S2-H64δ</text>
<polygon points="273.38,1104.5 281.2,1096.68 289.02,1104.5 281.2,1112.32" fill="#767fc1" stroke="#000" stroke-width="2.4" stroke-linejoin="miter"/>
<text x="298.9" y="1110.27" text-anchor="start" style="font-size:17.1px" >Cr-S1-H64D</text>
<polygon points="273.38,1125.2 281.2,1117.38 289.02,1125.2 281.2,1133.02" fill="#ab68ae" stroke="#000" stroke-width="2.4" stroke-linejoin="miter"/>
<text x="298.9" y="1130.97" text-anchor="start" style="font-size:17.1px" >Cr-S2-H64D</text>
<polygon points="289.43,1145.9 285.31,1153.03 277.09,1153.03 272.97,1145.9 277.09,1138.77 285.31,1138.77" fill="#767fc1" stroke="#000" stroke-width="2.4" stroke-linejoin="miter"/>
<text x="298.9" y="1151.67" text-anchor="start" style="font-size:17.1px" >Cr-S1-CN-H64ε</text>
<polygon points="289.43,1166.6 285.31,1173.73 277.09,1173.73 272.97,1166.6 277.09,1159.47 285.31,1159.47" fill="#ab68ae" stroke="#000" stroke-width="2.4" stroke-linejoin="miter"/>
<text x="298.9" y="1172.37" text-anchor="start" style="font-size:17.1px" >Cr-S2-CN-H64ε</text>
<polygon points="281.2,1178.71 289.1,1184.61 285.83,1193.09 276.57,1193.09 273.3,1184.61" fill="#767fc1" stroke="#000" stroke-width="2.4" stroke-linejoin="miter"/>
<text x="298.9" y="1193.07" text-anchor="start" style="font-size:17.1px" >Cr-S1-CN-H64δ</text>
<polygon points="281.2,1199.41 289.1,1205.31 285.83,1213.79 276.57,1213.79 273.3,1205.31" fill="#ab68ae" stroke="#000" stroke-width="2.4" stroke-linejoin="miter"/>
<text x="298.9" y="1213.77" text-anchor="start" style="font-size:17.1px" >Cr-S2-CN-H64δ</text>
<text x="412.3" y="1359" text-anchor="middle" style="font-size:35.5px;font-weight:bold" >(c)</text>
</g>
<g id="panel-d">
<rect x="1051.6" y="700.1" width="729.9" height="529" fill="none" stroke="#000" stroke-width="2.4"/>
<line x1="1051.6" y1="1229.1" x2="1051.6" y2="1239.1" stroke="#000" stroke-width="2.4" />
<line x1="1124.59" y1="1229.1" x2="1124.59" y2="1239.1" stroke="#000" stroke-width="2.4" />
<line x1="1197.58" y1="1229.1" x2="1197.58" y2="1239.1" stroke="#000" stroke-width="2.4" />
<line x1="1270.57" y1="1229.1" x2="1270.57" y2="1239.1" stroke="#000" stroke-width="2.4" />
<line x1="1343.56" y1="1229.1" x2="1343.56" y2="1239.1" stroke="#000" stroke-width="2.4" />
<line x1="1416.55" y1="1229.1" x2="1416.55" y2="1239.1" stroke="#000" stroke-width="2.4" />
<line x1="1489.54" y1="1229.1" x2="1489.54" y2="1239.1" stroke="#000" stroke-width="2.4" />
<line x1="1562.53" y1="1229.1" x2="1562.53" y2="1239.1" stroke="#000" stroke-width="2.4" />
<line x1="1635.52" y1="1229.1" x2="1635.52" y2="1239.1" stroke="#000" stroke-width="2.4" />
<line x1="1708.51" y1="1229.1" x2="1708.51" y2="1239.1" stroke="#000" stroke-width="2.4" />
<line x1="1781.5" y1="1229.1" x2="1781.5" y2="1239.1" stroke="#000" stroke-width="2.4" />
<line x1="1088.09" y1="1229.1" x2="1088.09" y2="1234.3" stroke="#000" stroke-width="2.4" />
<line x1="1161.08" y1="1229.1" x2="1161.08" y2="1234.3" stroke="#000" stroke-width="2.4" />
<line x1="1234.07" y1="1229.1" x2="1234.07" y2="1234.3" stroke="#000" stroke-width="2.4" />
<line x1="1307.06" y1="1229.1" x2="1307.06" y2="1234.3" stroke="#000" stroke-width="2.4" />
<line x1="1380.05" y1="1229.1" x2="1380.05" y2="1234.3" stroke="#000" stroke-width="2.4" />
<line x1="1453.04" y1="1229.1" x2="1453.04" y2="1234.3" stroke="#000" stroke-width="2.4" />
<line x1="1526.03" y1="1229.1" x2="1526.03" y2="1234.3" stroke="#000" stroke-width="2.4" />
<line x1="1599.02" y1="1229.1" x2="1599.02" y2="1234.3" stroke="#000" stroke-width="2.4" />
<line x1="1672.01" y1="1229.1" x2="1672.01" y2="1234.3" stroke="#000" stroke-width="2.4" />
<line x1="1745" y1="1229.1" x2="1745" y2="1234.3" stroke="#000" stroke-width="2.4" />
<line x1="1041.4" y1="1229.06" x2="1051.6" y2="1229.06" stroke="#000" stroke-width="2.4" />
<line x1="1041.4" y1="1140.9" x2="1051.6" y2="1140.9" stroke="#000" stroke-width="2.4" />
<line x1="1041.4" y1="1052.74" x2="1051.6" y2="1052.74" stroke="#000" stroke-width="2.4" />
<line x1="1041.4" y1="964.58" x2="1051.6" y2="964.58" stroke="#000" stroke-width="2.4" />
<line x1="1041.4" y1="876.42" x2="1051.6" y2="876.42" stroke="#000" stroke-width="2.4" />
<line x1="1041.4" y1="788.26" x2="1051.6" y2="788.26" stroke="#000" stroke-width="2.4" />
<line x1="1041.4" y1="700.1" x2="1051.6" y2="700.1" stroke="#000" stroke-width="2.4" />
<line x1="1046.3" y1="1184.98" x2="1051.6" y2="1184.98" stroke="#000" stroke-width="2.4" />
<line x1="1046.3" y1="1096.82" x2="1051.6" y2="1096.82" stroke="#000" stroke-width="2.4" />
<line x1="1046.3" y1="1008.66" x2="1051.6" y2="1008.66" stroke="#000" stroke-width="2.4" />
<line x1="1046.3" y1="920.5" x2="1051.6" y2="920.5" stroke="#000" stroke-width="2.4" />
<line x1="1046.3" y1="832.34" x2="1051.6" y2="832.34" stroke="#000" stroke-width="2.4" />
<line x1="1046.3" y1="744.18" x2="1051.6" y2="744.18" stroke="#000" stroke-width="2.4" />
<text x="1051.6" y="1257.8" text-anchor="middle" style="font-size:21px" >0.4</text>
<text x="1124.59" y="1257.8" text-anchor="middle" style="font-size:21px" >0.6</text>
<text x="1197.58" y="1257.8" text-anchor="middle" style="font-size:21px" >0.8</text>
<text x="1270.57" y="1257.8" text-anchor="middle" style="font-size:21px" >1.0</text>
<text x="1343.56" y="1257.8" text-anchor="middle" style="font-size:21px" >1.2</text>
<text x="1416.55" y="1257.8" text-anchor="middle" style="font-size:21px" >1.4</text>
<text x="1489.54" y="1257.8" text-anchor="middle" style="font-size:21px" >1.6</text>
<text x="1562.53" y="1257.8" text-anchor="middle" style="font-size:21px" >1.8</text>
<text x="1635.52" y="1257.8" text-anchor="middle" style="font-size:21px" >2.0</text>
<text x="1708.51" y="1257.8" text-anchor="middle" style="font-size:21px" >2.2</text>
<text x="1781.5" y="1257.8" text-anchor="middle" style="font-size:21px" >2.4</text>
<text x="1037.5" y="1235.76" text-anchor="end" style="font-size:21px" >1.8</text>
<text x="1037.5" y="1147.6" text-anchor="end" style="font-size:21px" >2.0</text>
<text x="1037.5" y="1059.44" text-anchor="end" style="font-size:21px" >2.2</text>
<text x="1037.5" y="971.28" text-anchor="end" style="font-size:21px" >2.4</text>
<text x="1037.5" y="883.12" text-anchor="end" style="font-size:21px" >2.6</text>
<text x="1037.5" y="794.96" text-anchor="end" style="font-size:21px" >2.8</text>
<text x="1037.5" y="706.8" text-anchor="end" style="font-size:21px" >3.0</text>
<text x="1416.5" y="1289.1" text-anchor="middle" style="font-size:21px" >k<tspan dy="-8" style="font-size:16.38px">a</tspan><tspan dy="8"> (Cr-L) (mdyn/Å)</tspan></text>
<text transform="translate(994.4 963.5) rotate(-90)" text-anchor="middle" style="font-size:20.8px">NBO charge, Δe</text>
<polygon points="1129.6,777.8 1148,788.4 1129.6,799" fill="#767fc1" stroke="#000" stroke-width="2.4" stroke-linejoin="miter"/>
<polygon points="1141.9,777.8 1160.3,788.4 1141.9,799" fill="#ab68ae" stroke="#000" stroke-width="2.4" stroke-linejoin="miter"/>
<circle cx="1312.4" cy="796.6" r="11.9" fill="#767fc1" stroke="#000" stroke-width="2.4"/>
<circle cx="1316.2" cy="796.6" r="11.9" fill="#ab68ae" stroke="#000" stroke-width="2.4"/>
<polygon points="1354.8,775.8 1365.4,757.4 1376,775.8" fill="#767fc1" stroke="#000" stroke-width="2.4" stroke-linejoin="miter"/>
<polygon points="1357.5,781.6 1368.1,763.2 1378.7,781.6" fill="#ab68ae" stroke="#000" stroke-width="2.4" stroke-linejoin="miter"/>
<polygon points="1563.9,732.5 1576,720.4 1588.1,732.5 1576,744.6" fill="#ab68ae" stroke="#000" stroke-width="2.4" stroke-linejoin="miter"/>
<polygon points="1686.3,735.8 1698.4,723.7 1710.5,735.8 1698.4,747.9" fill="#767fc1" stroke="#000" stroke-width="2.4" stroke-linejoin="miter"/>
<circle cx="1592" cy="1178.3" r="11.9" fill="#000" stroke="#000" stroke-width="2.4"/>
<path d="M1581.3 1178.3A10.7 10.7 0 0 1 1602.7 1178.3Z" fill="#767fc1"/>
<circle cx="1580.9" cy="1180.9" r="11.9" fill="#000" stroke="#000" stroke-width="2.4"/>
<path d="M1570.2 1180.9A10.7 10.7 0 0 1 1591.6 1180.9Z" fill="#ab68ae"/>
<polygon points="1568.7,1180 1562.65,1190.48 1550.55,1190.48 1544.5,1180 1550.55,1169.52 1562.65,1169.52" fill="#767fc1" stroke="#000" stroke-width="2.4" stroke-linejoin="miter"/>
<polygon points="1551.9,1187.4 1545.85,1197.88 1533.75,1197.88 1527.7,1187.4 1533.75,1176.92 1545.85,1176.92" fill="#ab68ae" stroke="#000" stroke-width="2.4" stroke-linejoin="miter"/>
<polygon points="1564.8,1179.25 1576.9,1188.9 1571.9,1202.75 1557.7,1202.75 1552.7,1188.9" fill="#767fc1" stroke="#000" stroke-width="2.4" stroke-linejoin="miter"/>
<polygon points="1560.8,1179.45 1572.9,1189.1 1567.9,1202.95 1553.7,1202.95 1548.7,1189.1" fill="#ab68ae" stroke="#000" stroke-width="2.4" stroke-linejoin="miter"/>
<rect x="1530.8" y="1164.1" width="68.7" height="40.2" fill="none" stroke="#000" stroke-width="2.3"/>
<line x1="1458.6" y1="1096.7" x2="1530.8" y2="1204.3" stroke="#000" stroke-width="2.4" />
<line x1="1732.3" y1="1096.7" x2="1599.5" y2="1204.3" stroke="#000" stroke-width="2.4" />
<rect x="1458.6" y="1041.8" width="273.7" height="54.9" fill="#fff" stroke="#000" stroke-width="2.3"/>
<polygon points="1508.8,1073.5 1502.75,1083.98 1490.65,1083.98 1484.6,1073.5 1490.65,1063.02 1502.75,1063.02" fill="#ab68ae" stroke="#000" stroke-width="2.4" stroke-linejoin="miter"/>
<polygon points="1572.5,1067.2 1566.45,1077.68 1554.35,1077.68 1548.3,1067.2 1554.35,1056.72 1566.45,1056.72" fill="#767fc1" stroke="#000" stroke-width="2.4" stroke-linejoin="miter"/>
<polygon points="1600.7,1067.65 1612.8,1077.3 1607.8,1091.15 1593.6,1091.15 1588.6,1077.3" fill="#767fc1" stroke="#000" stroke-width="2.4" stroke-linejoin="miter"/>
<polygon points="1579.8,1066.75 1591.9,1076.4 1586.9,1090.25 1572.7,1090.25 1567.7,1076.4" fill="#ab68ae" stroke="#000" stroke-width="2.4" stroke-linejoin="miter"/>
<circle cx="1659.6" cy="1064.9" r="11.9" fill="#000" stroke="#000" stroke-width="2.4"/>
<path d="M1648.9 1064.9A10.7 10.7 0 0 1 1670.3 1064.9Z" fill="#ab68ae"/>
<circle cx="1702.6" cy="1060.8" r="11.9" fill="#000" stroke="#000" stroke-width="2.4"/>
<path d="M1691.9 1060.8A10.7 10.7 0 0 1 1713.3 1060.8Z" fill="#767fc1"/>
<rect x="1062.25" y="1068.2" width="324.45" height="150.6" fill="#fff" stroke="#000" stroke-width="2.4"/>
<circle cx="1079.5" cy="1082" r="8.09" fill="#767fc1" stroke="#000" stroke-width="2.4"/>
<text x="1097.1" y="1087.77" text-anchor="start" style="font-size:17.1px" >Cr-S1-Gas</text>
<circle cx="1079.5" cy="1102.63" r="8.09" fill="#ab68ae" stroke="#000" stroke-width="2.4"/>
<text x="1097.1" y="1108.4" text-anchor="start" style="font-size:17.1px" >Cr-S2-Gas</text>
<circle cx="1079.5" cy="1123.26" r="8.09" fill="#000" stroke="#000" stroke-width="2.4"/>
<path d="M1072.61 1123.26A6.89 6.89 0 0 1 1086.39 1123.26Z" fill="#767fc1"/>
<text x="1097.1" y="1129.03" text-anchor="start" style="font-size:17.1px" >Cr-S1-CN-Gas</text>
<circle cx="1079.5" cy="1143.89" r="8.09" fill="#000" stroke="#000" stroke-width="2.4"/>
<path d="M1072.61 1143.89A6.89 6.89 0 0 1 1086.39 1143.89Z" fill="#ab68ae"/>
<text x="1097.1" y="1149.66" text-anchor="start" style="font-size:17.1px" >Cr-S2-CN-Gas</text>
<polygon points="1075.2,1157.31 1087.71,1164.52 1075.2,1171.73" fill="#767fc1" stroke="#000" stroke-width="2.4" stroke-linejoin="miter"/>
<text x="1097.1" y="1170.29" text-anchor="start" style="font-size:17.1px" >Cr-S1-H64ε</text>
<polygon points="1075.2,1177.94 1087.71,1185.15 1075.2,1192.36" fill="#ab68ae" stroke="#000" stroke-width="2.4" stroke-linejoin="miter"/>
<text x="1097.1" y="1190.92" text-anchor="start" style="font-size:17.1px" >Cr-S2-H64ε</text>
<polygon points="1072.29,1210.24 1079.5,1197.73 1086.71,1210.24" fill="#767fc1" stroke="#000" stroke-width="2.4" stroke-linejoin="miter"/>
<text x="1097.1" y="1211.55" text-anchor="start" style="font-size:17.1px" >Cr-S1-H64δ</text>
<polygon points="1234.19,1086.46 1241.4,1073.95 1248.61,1086.46" fill="#ab68ae" stroke="#000" stroke-width="2.4" stroke-linejoin="miter"/>
<text x="1259.1" y="1087.77" text-anchor="start" style="font-size:17.1px" >Cr-S2-H64δ</text>
<polygon points="1233.58,1102.63 1241.4,1094.81 1249.22,1102.63 1241.4,1110.45" fill="#767fc1" stroke="#000" stroke-width="2.4" stroke-linejoin="miter"/>
<text x="1259.1" y="1108.4" text-anchor="start" style="font-size:17.1px" >Cr-S1-H64D</text>
<polygon points="1233.58,1123.26 1241.4,1115.44 1249.22,1123.26 1241.4,1131.08" fill="#ab68ae" stroke="#000" stroke-width="2.4" stroke-linejoin="miter"/>
<text x="1259.1" y="1129.03" text-anchor="start" style="font-size:17.1px" >Cr-S2-H64D</text>
<polygon points="1249.63,1143.89 1245.51,1151.02 1237.29,1151.02 1233.17,1143.89 1237.29,1136.76 1245.51,1136.76" fill="#767fc1" stroke="#000" stroke-width="2.4" stroke-linejoin="miter"/>
<text x="1259.1" y="1149.66" text-anchor="start" style="font-size:17.1px" >Cr-S1-CN-H64ε</text>
<polygon points="1249.63,1164.52 1245.51,1171.65 1237.29,1171.65 1233.17,1164.52 1237.29,1157.39 1245.51,1157.39" fill="#ab68ae" stroke="#000" stroke-width="2.4" stroke-linejoin="miter"/>
<text x="1259.1" y="1170.29" text-anchor="start" style="font-size:17.1px" >Cr-S2-CN-H64ε</text>
<polygon points="1241.4,1176.56 1249.3,1182.46 1246.03,1190.94 1236.77,1190.94 1233.5,1182.46" fill="#767fc1" stroke="#000" stroke-width="2.4" stroke-linejoin="miter"/>
<text x="1259.1" y="1190.92" text-anchor="start" style="font-size:17.1px" >Cr-S1-CN-H64δ</text>
<polygon points="1241.4,1197.19 1249.3,1203.09 1246.03,1211.57 1236.77,1211.57 1233.5,1203.09" fill="#ab68ae" stroke="#000" stroke-width="2.4" stroke-linejoin="miter"/>
<text x="1259.1" y="1211.55" text-anchor="start" style="font-size:17.1px" >Cr-S2-CN-H64δ</text>
<text x="1386" y="1359" text-anchor="middle" style="font-size:35.5px;font-weight:bold" >(d)</text>
</g>
</svg>
</body>
</html>
